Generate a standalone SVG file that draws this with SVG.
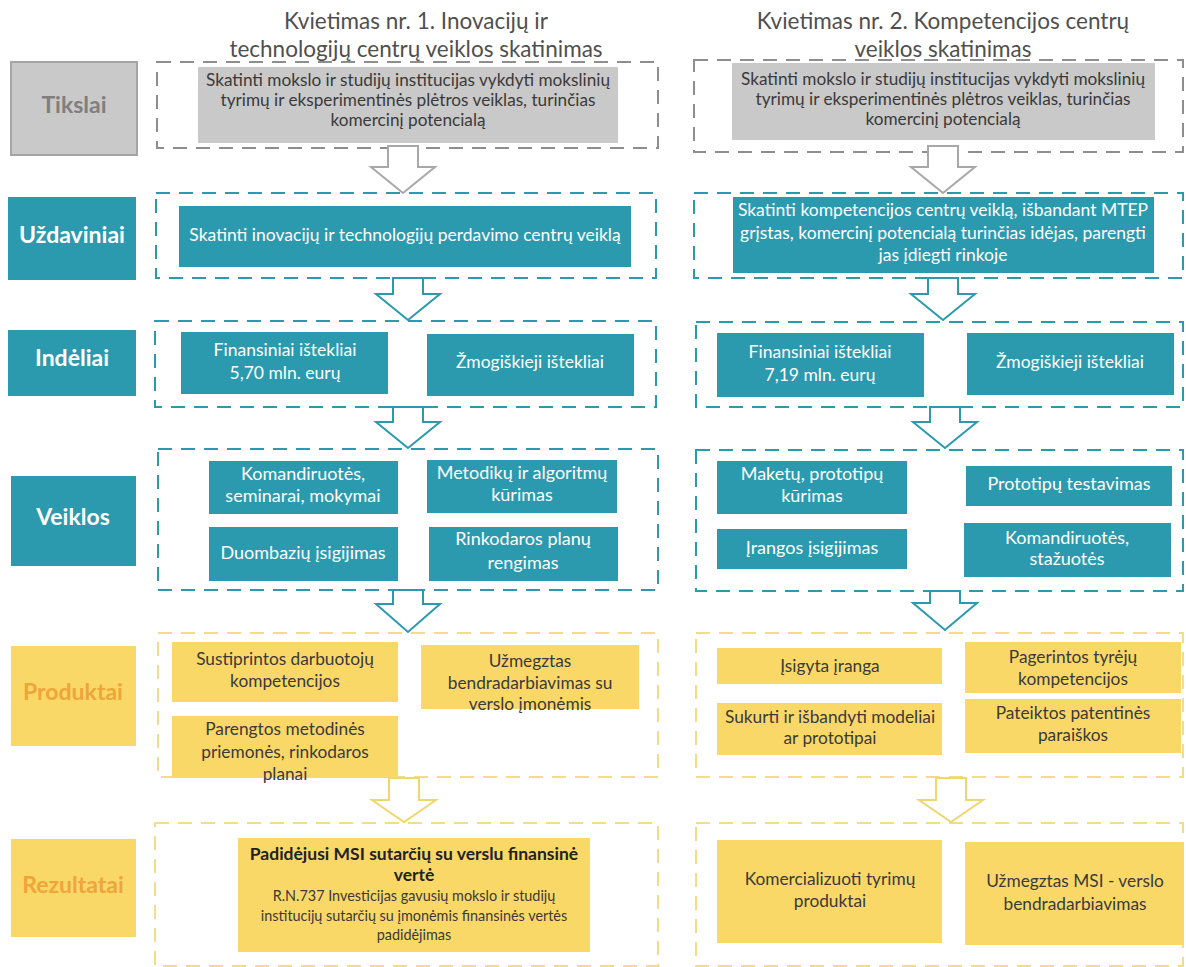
<svg xmlns="http://www.w3.org/2000/svg" width="1186" height="967" viewBox="0 0 1186 967">
<style>
text{font-family:Lato,"Open Sans","Liberation Sans",sans-serif;text-anchor:middle}
.hd{font-size:22.5px;fill:#4f4f4f}
.lb{font-size:23px;font-weight:bold}
.lw{fill:#fff}
.tw{font-size:17.5px;fill:#fff}
.tv{font-size:18px;fill:#fff}
.ty{font-size:17.3px;fill:#3a3a3a}
.tg{font-size:17.2px;fill:#3a3a3a}
.teal{fill:#2b9aae}
.yel{fill:#fad867}
.gry{fill:#c9c9c9}
.dg{fill:none;stroke:#8e8e8e;stroke-width:2;stroke-dasharray:14 9}
.dt{fill:none;stroke:#2b9aae;stroke-width:2;stroke-dasharray:14 9}
.dy{fill:none;stroke:#f3db87;stroke-width:2;stroke-dasharray:14 9}
.ag{fill:#fff;stroke:#a8a8a8;stroke-width:2}
.at{fill:#fff;stroke:#2b9aae;stroke-width:2}
.ay{fill:#fff;stroke:#f0d670;stroke-width:2}
</style>
<rect width="1186" height="967" fill="#fff"/>

<g id="headers">
<text class="hd" x="416" y="29">Kvietimas nr. 1. Inovacijų ir</text>
<text class="hd" x="416" y="57">technologijų centrų veiklos skatinimas</text>
<text class="hd" x="943" y="29">Kvietimas nr. 2. Kompetencijos centrų</text>
<text class="hd" x="943" y="57">veiklos skatinimas</text>
</g>

<g id="containers">
<rect class="dg" x="157" y="62" width="501" height="86"/>
<rect class="dg" x="694" y="60" width="489" height="92"/>
<rect class="dt" x="156" y="193" width="500" height="85"/>
<rect class="dt" x="694" y="193" width="489" height="85"/>
<rect class="dt" x="155" y="321" width="501" height="86"/>
<rect class="dt" x="696" y="322" width="487" height="85"/>
<rect class="dt" x="158" y="449" width="500" height="141"/>
<rect class="dt" x="696" y="450" width="487" height="141"/>
<rect class="dy" x="158" y="633" width="500" height="144"/>
<rect class="dy" x="696" y="633" width="487" height="144"/>
<rect class="dy" x="155" y="823" width="503" height="143"/>
<rect class="dy" x="696" y="823" width="487" height="143"/>
</g>

<g id="lbl-tikslai"><rect x="11" y="62" width="126" height="93" fill="#c9c9c9" stroke="#a5a5a5" stroke-width="2"/><text class="lb" x="74" y="113" fill="#7f7f7f">Tikslai</text></g>
<g id="lbl-uzdaviniai"><rect class="teal" x="8" y="197" width="128" height="83"/><text class="lb lw" x="72" y="243">Uždaviniai</text></g>
<g id="lbl-indeliai"><rect class="teal" x="8" y="330" width="128" height="66"/><text class="lb lw" x="72" y="366">Indėliai</text></g>
<g id="lbl-veiklos"><rect class="teal" x="11" y="476" width="125" height="90"/><text class="lb lw" x="73" y="525">Veiklos</text></g>
<g id="lbl-produktai"><rect class="yel" x="11" y="646" width="125" height="100"/><text class="lb" x="73" y="700" fill="#eea53a">Produktai</text></g>
<g id="lbl-rezultatai"><rect class="yel" x="11" y="839" width="125" height="98"/><text class="lb" x="73" y="893" fill="#eea53a">Rezultatai</text></g>

<g id="tikslai-1"><rect class="gry" x="198" y="67" width="420" height="76"/>
<text class="tg" x="408" y="86">Skatinti mokslo ir studijų institucijas vykdyti mokslinių</text>
<text class="tg" x="408" y="106">tyrimų ir eksperimentinės plėtros veiklas, turinčias</text>
<text class="tg" x="408" y="126">komercinį potencialą</text></g>
<g id="tikslai-2"><rect class="gry" x="732" y="63" width="423" height="77"/>
<text class="tg" x="943" y="85">Skatinti mokslo ir studijų institucijas vykdyti mokslinių</text>
<text class="tg" x="943" y="105">tyrimų ir eksperimentinės plėtros veiklas, turinčias</text>
<text class="tg" x="943" y="125">komercinį potencialą</text></g>

<g id="uzd-1"><rect class="teal" x="179" y="206" width="452" height="61"/>
<text class="tw" x="405" y="241">Skatinti inovacijų ir technologijų perdavimo centrų veiklą</text></g>
<g id="uzd-2"><rect class="teal" x="733" y="197" width="421" height="76"/>
<text class="tw" x="943" y="216">Skatinti kompetencijos centrų veiklą, išbandant MTEP</text>
<text class="tw" x="943" y="239">grįstas, komercinį potencialą turinčias idėjas, parengti</text>
<text class="tw" x="943" y="261">jas įdiegti rinkoje</text></g>

<g id="ind-1a"><rect class="teal" x="181" y="332" width="207" height="62"/>
<text class="tw" x="285" y="356">Finansiniai ištekliai</text><text class="tw" x="285" y="379">5,70 mln. eurų</text></g>
<g id="ind-1b"><rect class="teal" x="427" y="334" width="207" height="62"/>
<text class="tw" x="530" y="368">Žmogiškieji ištekliai</text></g>
<g id="ind-2a"><rect class="teal" x="717" y="333" width="207" height="64"/>
<text class="tw" x="820" y="358">Finansiniai ištekliai</text><text class="tw" x="820" y="381">7,19 mln. eurų</text></g>
<g id="ind-2b"><rect class="teal" x="967" y="333" width="207" height="62"/>
<text class="tw" x="1070" y="368">Žmogiškieji ištekliai</text></g>

<g id="veik-1a"><rect class="teal" x="209" y="461" width="189" height="53"/>
<text class="tv" x="303" y="480">Komandiruotės,</text><text class="tv" x="303" y="502">seminarai, mokymai</text></g>
<g id="veik-1b"><rect class="teal" x="427" y="460" width="190" height="53"/>
<text class="tv" x="522" y="479">Metodikų ir algoritmų</text><text class="tv" x="522" y="501">kūrimas</text></g>
<g id="veik-1c"><rect class="teal" x="209" y="527" width="189" height="54"/>
<text class="tv" x="303" y="559">Duombazių įsigijimas</text></g>
<g id="veik-1d"><rect class="teal" x="429" y="527" width="189" height="54"/>
<text class="tv" x="523" y="545">Rinkodaros planų</text><text class="tv" x="523" y="569">rengimas</text></g>
<g id="veik-2a"><rect class="teal" x="717" y="461" width="190" height="53"/>
<text class="tv" x="812" y="480">Maketų, prototipų</text><text class="tv" x="812" y="502">kūrimas</text></g>
<g id="veik-2b"><rect class="teal" x="966" y="466" width="206" height="40"/>
<text class="tv" x="1069" y="490">Prototipų testavimas</text></g>
<g id="veik-2c"><rect class="teal" x="717" y="529" width="190" height="40"/>
<text class="tv" x="812" y="554">Įrangos įsigijimas</text></g>
<g id="veik-2d"><rect class="teal" x="964" y="523" width="207" height="54"/>
<text class="tv" x="1067" y="544">Komandiruotės,</text><text class="tv" x="1067" y="565">stažuotės</text></g>

<g id="prod-1a"><rect class="yel" x="172" y="642" width="226" height="60"/>
<text class="ty" x="285" y="665">Sustiprintos darbuotojų</text><text class="ty" x="285" y="687">kompetencijos</text></g>
<g id="prod-1b"><rect class="yel" x="421" y="645" width="218" height="64"/>
<text class="ty" x="530" y="667">Užmegztas</text><text class="ty" x="530" y="689">bendradarbiavimas su</text><text class="ty" x="530" y="710">verslo įmonėmis</text></g>
<g id="prod-1c"><rect class="yel" x="172" y="716" width="226" height="62"/>
<text class="ty" x="285" y="735">Parengtos metodinės</text><text class="ty" x="285" y="758">priemonės, rinkodaros</text><text class="ty" x="285" y="780">planai</text></g>
<g id="prod-2a"><rect class="yel" x="717" y="648" width="225" height="36"/>
<text class="ty" x="830" y="672">Įsigyta įranga</text></g>
<g id="prod-2b"><rect class="yel" x="965" y="642" width="216" height="51"/>
<text class="ty" x="1073" y="663">Pagerintos tyrėjų</text><text class="ty" x="1073" y="685">kompetencijos</text></g>
<g id="prod-2c"><rect class="yel" x="717" y="703" width="225" height="52"/>
<text class="ty" x="830" y="723">Sukurti ir išbandyti modeliai</text><text class="ty" x="830" y="744">ar prototipai</text></g>
<g id="prod-2d"><rect class="yel" x="965" y="699" width="216" height="54"/>
<text class="ty" x="1073" y="719">Pateiktos patentinės</text><text class="ty" x="1073" y="741">paraiškos</text></g>

<g id="rez-1"><rect class="yel" x="238" y="838" width="352" height="114"/>
<text x="414" y="860" style="font-size:17.5px;font-weight:bold;fill:#222">Padidėjusi MSI sutarčių su verslu finansinė</text>
<text x="414" y="881" style="font-size:17.5px;font-weight:bold;fill:#222">vertė</text>
<text x="414" y="901" style="font-size:14.4px;fill:#3a3a3a">R.N.737 Investicijas gavusių mokslo ir studijų</text>
<text x="414" y="921" style="font-size:14.4px;fill:#3a3a3a">institucijų sutarčių su įmonėmis finansinės vertės</text>
<text x="414" y="940" style="font-size:14.4px;fill:#3a3a3a">padidėjimas</text></g>
<g id="rez-2a"><rect class="yel" x="717" y="840" width="225" height="103"/>
<text class="ty" x="830" y="885">Komercializuoti tyrimų</text><text class="ty" x="830" y="907">produktai</text></g>
<g id="rez-2b"><rect class="yel" x="965" y="842" width="219" height="103"/>
<text class="ty" x="1075" y="887">Užmegztas MSI - verslo</text><text class="ty" x="1075" y="910">bendradarbiavimas</text></g>

<g id="connectors">
<polygon class="ag" points="388,146 418,146 418,167 435,167 403,193 371,167 388,167"/>
<polygon class="ag" points="928,146 958,146 958,167 975,167 943,193 911,167 928,167"/>
<polygon class="at" points="393,278 423,278 423,294 440,294 408,320 376,294 393,294"/>
<polygon class="at" points="928,278 958,278 958,294 975,294 943,320 911,294 928,294"/>
<polygon class="at" points="393,407 423,407 423,422 440,422 408,448 376,422 393,422"/>
<polygon class="at" points="930,407 960,407 960,422 977,422 945,448 913,422 930,422"/>
<polygon class="at" points="393,590 423,590 423,604 440,604 408,632 376,604 393,604"/>
<polygon class="at" points="930,591 960,591 960,603 977,603 945,630 913,603 930,603"/>
<polygon class="ay" points="389,778 419,778 419,800 436,800 404,822 372,800 389,800"/>
<polygon class="ay" points="936,778 966,778 966,800 983,800 951,822 919,800 936,800"/>
</g>
</svg>
